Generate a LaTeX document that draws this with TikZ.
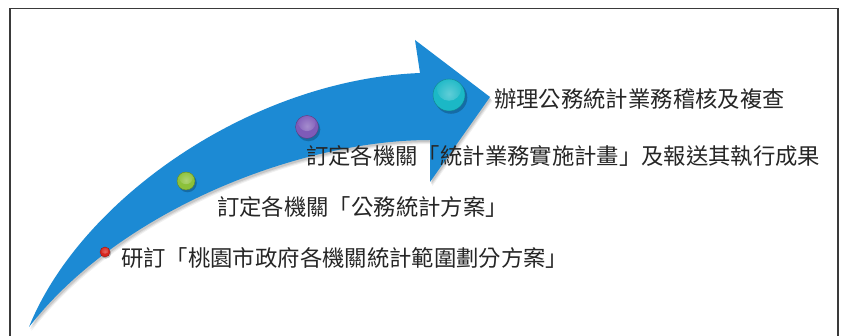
\documentclass[tikz,border=0pt]{standalone}
\usepackage{fontspec}
\newfontfamily\cjk{Noto Sans CJK TC}
\usetikzlibrary{shadings}
\definecolor{arrowblue}{HTML}{1C8AD4}
\definecolor{framegray}{HTML}{3A3A3A}
\definecolor{txtgray}{HTML}{262626}
\definecolor{ballred}{HTML}{D8261E}
\definecolor{ballgreen}{HTML}{8CC13A}
\definecolor{ballpurple}{HTML}{7E5BB8}
\definecolor{ballcyan}{HTML}{1BB8C6}
\tikzset{
  lbl/.style={anchor=west, inner sep=0pt, text=txtgray, font=\cjk\fontsize{22.35}{26}\selectfont},
  orb/.style 2 args={circle, inner sep=0pt, minimum size=#2, fill=#1,
    draw=#1!70!black, line width=0.4pt,
    path picture={\shade[inner color=#1!70!white, outer color=#1]
      ([yshift={0.2*#2}]path picture bounding box.center) circle ({0.38*#2});}},
  orbshadow/.style={fill=black, opacity=0.22},
}
\begin{document}
\begin{tikzpicture}[x=1pt,y=-1pt]
\useasboundingbox (0,0) rectangle (841,336);
\fill[white] (0,0) rectangle (841,336);
% frame (open at the bottom)
\draw[framegray, line width=1.3pt] (10,340) -- (10,8.5) -- (838,8.5) -- (838,340);
% arrow shape
\def\arrowpath{(29,327) .. controls (80,200) and (250,80) .. (420,73)
   -- (415,40) -- (490,97) -- (430,182) -- (430,140)
   .. controls (300,140) and (120,210) .. (29,327) -- cycle}
\foreach \d/\o in {4/0.06,3/0.08,2/0.1}{
  \fill[black, opacity=\o, shift={(\d*0.6,\d)}] \arrowpath;
}
\fill[arrowblue] \arrowpath;
% ball shadows
\fill[orbshadow] (106,253.5) circle (5.2);
\fill[orbshadow] (187.5,183) circle (9.3);
\fill[orbshadow] (308.5,129.5) circle (11.8);
\fill[orbshadow] (451,97.5) circle (16.3);
% balls
\node[orb={ballred}{10pt}] (b1) at (105,252) {};
\node[orb={ballgreen}{18pt}] (b2) at (186,181) {};
\node[orb={ballpurple}{23pt}] (b3) at (307,127) {};
\node[orb={ballcyan}{32pt}] (b4) at (449,95) {};
% labels
\node[lbl] (t1) at (121,258) {研訂「桃園市政府各機關統計範圍劃分方案」};
\node[lbl] (t2) at (217,207) {訂定各機關「公務統計方案」};
\node[lbl] (t3) at (306,156) {訂定各機關「統計業務實施計畫」及報送其執行成果};
\node[lbl] (t4) at (494,99) {辦理公務統計業務稽核及複查};
\end{tikzpicture}
\end{document}
